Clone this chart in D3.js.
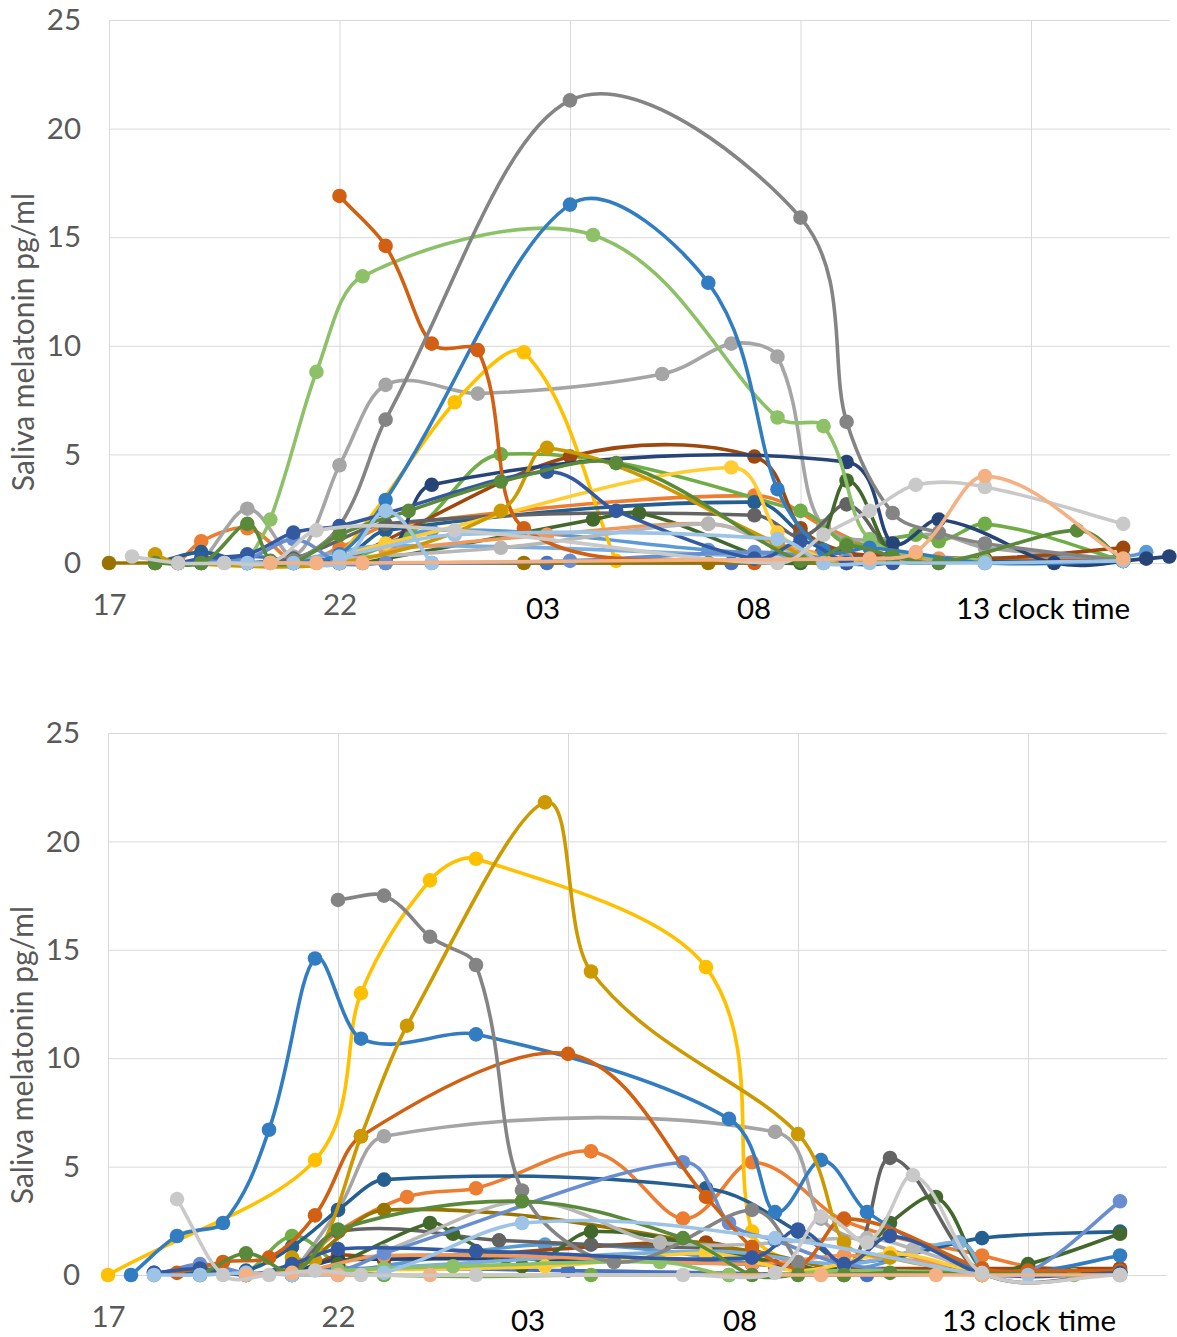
<!DOCTYPE html>
<html>
<head>
<meta charset="utf-8">
<script src="https://cdn.jsdelivr.net/npm/d3@7"></script>
<style>
  body { margin: 0; background: #fff; }
  text { font-family: Lato, "Noto Sans", sans-serif; }
</style>
</head>
<body>
<div id="chart"></div>
<script>
// hours run on from 17:00, so 27 is 03 clock time and 37 is 13
const yTicks = [0, 5, 10, 15, 20, 25];
const xTicks = [17, 22, 27, 32, 37];
const xTickLabels = ['17', '22', '', '', ''];
const extraLabels = ['03', '08', '13 clock time'];
const yTitle = 'Saliva melatonin pg/ml';

// upper chart, [hour, pg/ml]
const t01 = [[21,0],[22,0.1],[24,1.5],[30,0.6],[32,0.3],[33,0.2],[39,0.3],[39.5,0.5]];
const t02 = [[18.5,0],[19,1.0],[20,1.6],[21,0.1],[22,0.7],[23,1.7],[31,3.1],[32.5,1.7],[34,0.3],[36,0.2],[39,0.1]];
const t03 = [[19,0],[20,2.5],[21,0.3],[22,4.5],[23,8.2],[25,7.8],[29,8.7],[30.5,10.1],[31.5,9.5],[32.5,1.7],[35,1.3],[36,0.7],[39,0.2]];
const t04 = [[21.5,0],[22,0.3],[24.5,7.4],[26,9.7],[28,0.1]];
const t05 = [[19,0],[20,0.3],[21,0.1],[22,0.1],[23,0],[26.5,0],[30.5,0],[33,0]];
const t06 = [[22,0],[23.5,1.3],[25.5,5.0],[32,2.4],[33,0.9],[34.5,1.3],[35,1.0],[36,1.8],[39,0.1]];
const t07 = [[18,0],[19,0.5],[20,0],[22,0.2],[23,1.5],[31,2.8],[32,1.4],[33,0.4],[36,0.1],[39,0.1]];
const t08 = [[22,0],[27,4.9],[31,4.9],[32,1.6],[33,0.5],[34,0.4],[36,0.2],[39,0.7]];
const t09 = [[20,0],[21,0.2],[23,1.8],[31,2.2],[32,1.2],[33,2.7],[34,0.5],[36,0.1]];
const t10 = [[17,0],[18,0],[21,0],[26,0],[30,0],[33,0]];
const t11 = [[22,0],[23,0.2],[24,3.6],[33,4.65],[34,0.9],[35,2.0],[37.5,0],[39.5,0.2],[40,0.3]];
const t12 = [[22.5,0],[27.5,2.0],[28.5,2.3],[32,0],[33,3.8],[34,0.3],[35,0]];
const t13 = [[21,0.1],[23,0.8],[32.5,0.2],[36,0.1]];
const t14 = [[23,0.6],[26.5,1.3],[30,1.8],[31.5,0.9],[33,0.2],[35,0.2]];
const t15 = [[22,0.2],[25.5,0.7],[30,1.8],[31.5,0.7],[33,0]];
const t16 = [[22,0.3],[23,0.9],[30.5,4.4],[31.5,1.4],[32.5,0.2],[33,0.1]];
const t17 = [[19,0],[20,0.2],[21,1.1],[22,0],[23,0],[24,0],[27,0.1],[31,0.5],[33,0.1]];
const t18 = [[20,0],[20.5,2.0],[21.5,8.8],[22.5,13.2],[27.5,15.1],[31.5,6.7],[32.5,6.3],[33.5,1.1],[36,0.1]];
const t19 = [[21,0],[22,0.4],[23,2.9],[27,16.5],[30,12.9],[31.5,3.4],[32.5,0.6],[33.5,0.7],[36,0],[39,0.1]];
const t20 = [[22,16.9],[23,14.6],[24,10.1],[25,9.8],[26,1.6],[31,0]];
const t21 = [[20,0],[21,0.1],[22,1.7],[23,6.6],[27,21.3],[32,15.9],[33,6.5],[34,2.3],[35,1.4],[36,0.9],[39,0.1]];
const t22 = [[18,0.4],[18.5,0],[22,0],[25.5,2.4],[26.5,5.3],[31.5,0.9],[32.5,0],[34.5,0.3]];
const t23 = [[18.5,0],[19,0.2],[20,0.4],[21,1.4],[22,1.7],[26.5,4.2],[28,2.4],[31,0.2],[32,1.0],[33,0],[34,0]];
const t24 = [[18,0],[19,0],[20,1.8],[20.5,0.1],[21,0],[22,1.3],[23.5,2.4],[25.5,3.75],[28,4.6],[32,0.1],[33,0.8],[34,0.3],[35,0],[38,1.5],[39,0.1]];
const t25 = [[19.5,0],[20,0],[20.5,0],[21,0],[22,0],[23,2.4],[24,0]];
const t26 = [[22,0.3],[24.5,1.3],[31.5,1.1],[32.5,0],[33.5,0],[36,0],[39,0.1]];
const t27 = [[17.5,0.3],[18.5,0],[19.5,0],[20.5,0],[21.5,1.5],[24.5,1.5],[31.5,0],[32.5,1.3],[33.5,2.4],[34.5,3.6],[36,3.5],[39,1.8]];
const t28 = [[20.5,0],[21.5,0],[22.5,0],[33.5,0.2],[34.5,0.5],[36,4.0],[39,0.2]];

// lower chart
const b01 = [[22,0.1],[26.5,1.4],[31,0.6],[33,0.2],[35.5,1.5],[36,0.3]];
const b02 = [[21,0.1],[22,2.0],[23.5,3.6],[25,4.0],[27.5,5.7],[29.5,2.6],[31,5.2],[33,2.5],[36,0.9],[37,0.4],[39,0.1]];
const b03 = [[21,0],[22,3.0],[23,6.4],[31.5,6.6],[32.5,2.6],[33.5,1.5],[36,0]];
const b04 = [[17,0],[21.5,5.3],[22.5,13.0],[24,18.2],[25,19.2],[30,14.2],[31,2.0],[32,0.5],[33,0]];
const b05 = [[20,0],[22,0.3],[27,0.2],[33.5,0],[39,0.2]];
const b06 = [[20,0],[21,1.8],[22,0.5],[23,0],[27.5,0],[30.5,0],[33,0]];
const b07 = [[18,0.1],[19,0.1],[20,0.2],[21,1.3],[22,3.0],[23,4.4],[30,4.0],[32,2.0],[33,0.6],[36,1.7],[39,2.0]];
const b08 = [[21,0],[22,0.9],[23,0.7],[30,1.5],[31.5,0.4],[33,0.3],[39,0.3]];
const b09 = [[21,0],[22,2.0],[25.5,1.6],[27.5,1.4],[31,1.1],[33,0.2],[34,5.4],[36,0.1],[39,0.1]];
const b10 = [[19,0],[21,0.3],[23,3.0],[31,1.1],[33,0.1]];
const b11 = [[21,0.1],[22,0.7],[31,0.5],[33,0.1],[39,0.1]];
const b12 = [[22,0.5],[24,2.4],[24.5,1.9],[26,0.4],[27.5,2.0],[31,0.8],[33,0.3],[34,2.4],[35,3.6],[36,0.3],[37,0.5],[39,1.9]];
const b13 = [[22,0.2],[30,1.1],[33,0.5],[35.5,1.5],[36,0.2]];
const b14 = [[21,0],[23,0.9],[31,0.5],[33,0.9],[36,0.3]];
const b15 = [[23,1.1],[26,3.4],[29,1.5],[33.5,1.7],[34.5,1.2],[36,0.1]];
const b16 = [[22,0.2],[26.5,0.4],[30,1.0],[32,0.2],[34,1.0],[36,0]];
const b17 = [[18,0],[19,0.5],[20,0.1],[22,0.2],[23,1.0],[29.5,5.2],[30.5,2.4],[31.5,1.6],[33,0.5],[36,0],[37,0.1],[39,3.4]];
const b18 = [[22,0.2],[23,0.3],[24.5,0.4],[29,0.6],[30.5,0],[33,0.2],[38,0]];
const b19 = [[17.5,0],[18.5,1.8],[19.5,2.4],[20.5,6.7],[21.5,14.6],[22.5,10.9],[25,11.1],[30.5,7.2],[31.5,2.9],[32.5,5.3],[33.5,2.9],[36,0.2],[37,0.1],[39,0.9]];
const b20 = [[18.5,0.1],[19.5,0.6],[20.5,0.8],[21.5,2.75],[22.5,6.4],[27,10.2],[30,3.6],[31,1.3],[32,0.4],[33,2.6],[36,0.3],[37,0.2],[39,0.2]];
const b21 = [[22,17.3],[23,17.5],[24,15.6],[25,14.3],[26,3.9],[28,0.6],[31,3.0],[32,0.6]];
const b22 = [[21,0.8],[21.5,0.7],[22.5,6.4],[23.5,11.5],[26.5,21.8],[27.5,14.0],[32,6.5],[33,1.5],[34,0.8],[36,0]];
const b23 = [[18,0.1],[19,0.3],[20,0],[21,0.5],[22,1.2],[25,1.1],[31,0.8],[32,2.1],[33,0.5],[34,1.8],[36,0.1],[39,0.1]];
const b24 = [[19,0],[20,1.0],[21,0.1],[22,2.1],[26,3.4],[29.5,1.7],[31,0],[32,0],[33,0],[34,0.1],[39,0]];
const b25 = [[18,0],[19,0],[20,0.1],[21,0],[22,0],[23,0.1],[26,2.4],[31.5,1.7],[36,0],[37,0]];
const b26 = [[20,0],[21,0.1],[22,0],[24,0],[32.5,0],[35,0],[36,0],[39,0]];
const b27 = [[18.5,3.5],[19.5,0],[20.5,0],[21.5,0.2],[22.5,0],[25,0],[29.5,0],[31.5,0.1],[32.5,2.7],[33.5,1.5],[34.5,4.6],[36,0.1],[39,0]];

const topSeries = [t01,t02,t03,t04,t05,t06,t07,t08,t09,t10,t11,t12,t13,t14,t15,t16,t17,t18,t19,t20,t21,t22,t23,t24,t25,t26,t27,t28];
const bottomSeries = [b01,b02,b03,b04,b05,b06,b07,b08,b09,b10,b11,b12,b13,b14,b15,b16,b17,b18,b19,b20,b21,b22,b23,b24,b25,b26,b27];

const topColors = ['#5b9bd5','#ed7d31','#a5a5a5','#ffc000','#4472c4','#70ad47','#255e91','#9e480e','#636363','#997300','#264478','#43682b','#7cafdd','#f1975a','#b7b7b7','#ffcd33','#698ed0','#8cc168','#327dc2','#d26012','#848484','#cc9a00','#335aa1','#5a8a39','#9dc3e6','#9dc3e6','#c9c9c9','#f4b183'];
const bottomColors = ['#5b9bd5','#ed7d31','#a5a5a5','#ffc000','#4472c4','#70ad47','#255e91','#9e480e','#636363','#997300','#264478','#43682b','#7cafdd','#f1975a','#b7b7b7','#ffcd33','#698ed0','#8cc168','#327dc2','#d26012','#848484','#cc9a00','#335aa1','#5a8a39','#9dc3e6','#f4b183','#c9c9c9'];

// smoothing as the spreadsheet does it: tangent along the neighbours, scaled by segment length.
// the arrival side is a bit shorter, the reference has a slight corner at each point
const smoothOut = 0.4;
const smoothIn = 0.28;
const smoothCurve = (context) => {
  let pts = [];
  const dist = (a, b) => Math.hypot(b[0] - a[0], b[1] - a[1]);
  return {
    areaStart() {},
    areaEnd() {},
    lineStart() { pts = []; },
    point(x, y) { pts.push([x, y]); },
    lineEnd() {
      context.moveTo(pts[0][0], pts[0][1]);
      for (let i = 0; i < pts.length - 1; i++) {
        const p0 = pts[i - 1] || pts[i];
        const p1 = pts[i];
        const p2 = pts[i + 1];
        const p3 = pts[i + 2] || p2;
        const d1 = dist(p0, p1);
        const d2 = dist(p1, p2);
        const d3 = dist(p2, p3);
        const a = smoothOut * d2 / (d1 + d2);
        const b = smoothIn * d2 / (d2 + d3);
        context.bezierCurveTo(
          p1[0] + (p2[0] - p0[0]) * a, p1[1] + (p2[1] - p0[1]) * a,
          p2[0] - (p3[0] - p1[0]) * b, p2[1] - (p3[1] - p1[1]) * b,
          p2[0], p2[1]
        );
      }
    },
  };
};

const svg = d3.select('#chart').append('svg').attr('width', 1177).attr('height', 1337);
svg.append('rect').attr('width', 1177).attr('height', 1337).attr('fill', '#fff');

const drawPanel = (panel) => {
  const x = d3.scaleLinear().domain([17, 40]).range([panel.left, panel.left + 23 * panel.hourWidth]);
  const y = d3.scaleLinear().domain([0, 25]).range([panel.base, panel.top]);
  const g = svg.append('g');

  const xAxis = d3.axisBottom(x).tickValues(xTicks)
    .tickSize(panel.top - panel.base).tickPadding(panel.xPad)
    .tickFormat((d, i) => xTickLabels[i]);
  const xg = g.append('g').attr('transform', `translate(0,${panel.base})`).call(xAxis);

  const yAxis = d3.axisLeft(y).tickValues(yTicks)
    .tickSize(panel.left - panel.right).tickPadding(28);
  const yg = g.append('g').attr('transform', `translate(${panel.left},0)`).call(yAxis);

  [xg, yg].forEach((a) => {
    a.select('.domain').remove();
    a.selectAll('line').attr('stroke', '#d9d9d9').attr('stroke-width', 1);
    a.selectAll('text').attr('fill', '#595959').style('font-size', '29.5px');
  });
  yg.selectAll('text').attr('dy', '0.33em');
  // axisBottom flips with the negative size, put the labels back under the axis
  xg.selectAll('text').attr('y', panel.xPad).attr('dy', '0.71em');

  g.append('text')
    .attr('transform', `translate(${panel.titleX},${panel.titleY}) rotate(-90)`)
    .attr('text-anchor', 'middle')
    .attr('fill', '#595959')
    .style('font-size', '30px')
    .text(yTitle);

  extraLabels.forEach((label, i) => {
    g.append('text')
      .attr('x', panel.labelX[i])
      .attr('y', panel.labelY)
      .attr('text-anchor', 'middle')
      .attr('fill', '#000')
      .style('font-size', '29.5px')
      .text(label);
  });

  const line = d3.line()
    .x((d) => x(d[0]))
    .y((d) => y(d[1]))
    .curve(smoothCurve);

  panel.series.forEach((values, i) => {
    const s = g.append('g');
    s.append('path')
      .attr('d', line(values))
      .attr('fill', 'none')
      .attr('stroke', panel.colors[i])
      .attr('stroke-width', 3.6);
    s.selectAll('circle')
      .data(values)
      .enter()
      .append('circle')
      .attr('cx', (d) => x(d[0]))
      .attr('cy', (d) => y(d[1]))
      .attr('r', 7.3)
      .attr('fill', panel.colors[i]);
  });
};

drawPanel({
  series: topSeries, colors: topColors,
  left: 109, right: 1170, top: 20, base: 563, hourWidth: 46.1,
  xPad: 31, titleX: 34, titleY: 342,
  labelX: [543, 754, 1043], labelY: 619,
});
drawPanel({
  series: bottomSeries, colors: bottomColors,
  left: 108, right: 1167, top: 733, base: 1275, hourWidth: 46,
  xPad: 31, titleX: 33, titleY: 1055,
  labelX: [528, 740, 1029], labelY: 1331,
});
</script>
</body>
</html>
